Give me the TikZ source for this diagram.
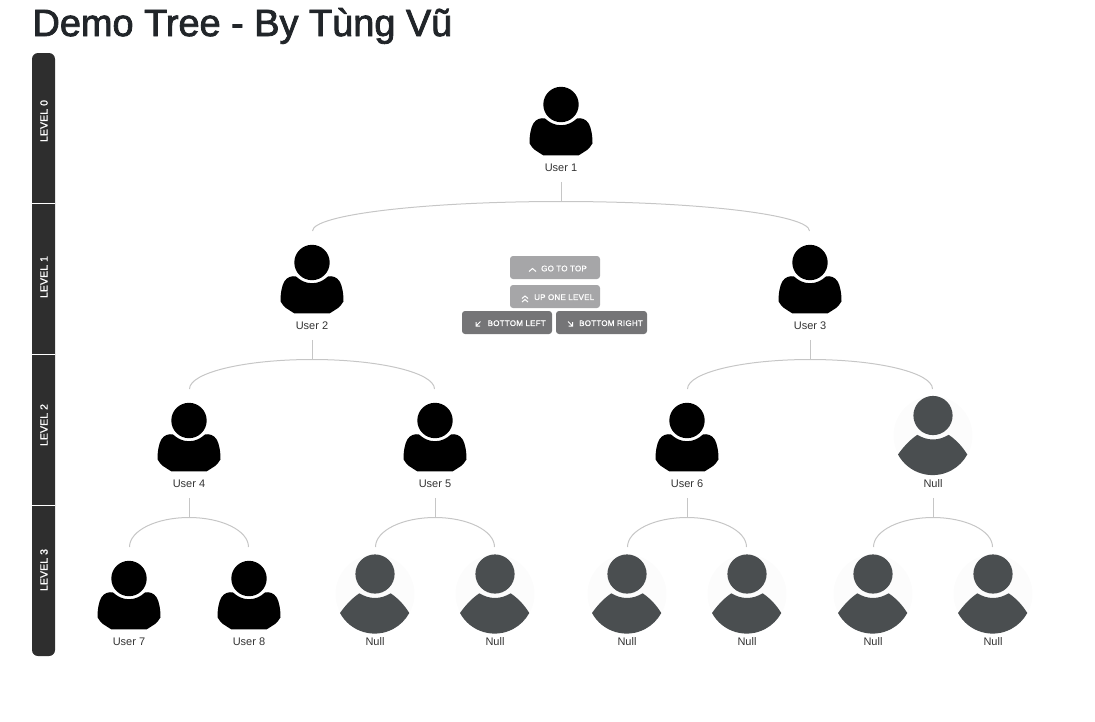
\documentclass[tikz,border=0pt]{standalone}
\usepackage{fontspec}
\usetikzlibrary{calc}
\setmainfont{Liberation Sans}
\newfontfamily\titlefont[FakeBold=2.2]{Liberation Sans}
\newfontfamily\levelfont[LetterSpace=1,FakeBold=1.2]{Liberation Sans}
\newfontfamily\btnfont[LetterSpace=3,FakeBold=1]{Liberation Sans}
\definecolor{barcol}{HTML}{2E2E2E}
\definecolor{btnlight}{HTML}{A6A6A8}
\definecolor{btndark}{HTML}{757577}
\definecolor{nullcol}{HTML}{4A4E50}
\definecolor{nullbg}{HTML}{FCFCFC}
\definecolor{linecol}{HTML}{C6C6C6}
\definecolor{titlecol}{HTML}{212529}
\definecolor{labelcol}{HTML}{333333}
\tikzset{
  personlabel/.style={font=\fontsize{11}{13}\selectfont,text=labelcol,inner sep=0pt,minimum height=28pt,anchor=center},
  branch/.style={draw=linecol,line width=1pt},
  levelsep/.style={draw=white,line width=1.2pt},
  leveltext/.style={font=\fontsize{10.5}{12}\selectfont\levelfont,text=white,rotate=90,inner sep=0pt},
  btnbox/.style={rounded corners=3pt,inner sep=0pt,minimum height=23pt},
  btntext/.style={font=\fontsize{8}{10}\selectfont\btnfont,text=white,inner sep=0pt,anchor=west},
  btnicon/.style={draw=white,line width=1pt},
  userpic/.pic={
    \fill[black] (0,0) circle[radius=17.7];
    \fill[black] (-16,14) .. controls (-11,18.5) and (-6,20.7) .. (0,20.7)
      .. controls (6,20.7) and (11,18.5) .. (16,14)
      .. controls (20,13) and (25,14.5) .. (27.7,19)
      .. controls (30,23) and (31.5,30) .. (31.5,38.8)
      .. controls (30.5,41) and (28,44) .. (26,45.5)
      .. controls (23,47.5) and (20,49.5) .. (17.7,50.8)
      -- (-17.7,50.8)
      .. controls (-20,49.5) and (-23,47.5) .. (-26,45.5)
      .. controls (-28,44) and (-30.5,41) .. (-31.5,38.8)
      .. controls (-31.5,30) and (-30,23) .. (-27.7,19)
      .. controls (-25,14.5) and (-20,13) .. (-16,14) -- cycle;
  },
  nullpic/.pic={
    \fill[nullbg] (0,0) circle[radius=39.5];
    \fill[nullcol] (0,-20) circle[radius=19.6];
    \fill[nullcol] (-35,19) arc[start angle=151.5,end angle=28.5,radius=39.4]
      .. controls (30,12) and (24,5) .. (15.7,-0.7)
      .. controls (11,2) and (6,4) .. (0,4)
      .. controls (-6,4) and (-11,2) .. (-15.7,-0.7)
      .. controls (-24,5) and (-30,12) .. (-35,19) -- cycle;
  }
}
% parent label, junction, left end, right end
\newcommand{\treefork}[4]{%
  \draw[branch] (#1.south) -- (#2);
  \draw[branch] (#3) .. controls ($(#3)!0.5523!(#3|-#2)$) and ($(#2)!0.5523!(#3|-#2)$) .. (#2)
    .. controls ($(#2)!0.5523!(#4|-#2)$) and ($(#4)!0.5523!(#4|-#2)$) .. (#4);
}
\begin{document}
\begin{tikzpicture}[x=1pt,y=-1pt]
\useasboundingbox (0,0) rectangle (1095,721);
% title
\node[anchor=base west,inner sep=0pt,text=titlecol,font=\fontsize{37.9}{44}\selectfont\titlefont] (title) at (32.3,36) {Demo Tree - By Tùng Vũ};
% level bar
\fill[barcol,rounded corners=6pt] (32,53) rectangle (55,656);
\draw[levelsep] (32,203.5) -- (55,203.5);
\draw[levelsep] (32,354.5) -- (55,354.5);
\draw[levelsep] (32,505.5) -- (55,505.5);
\node[leveltext] (lv0) at (44,121) {LEVEL 0};
\node[leveltext] (lv1) at (44,277) {LEVEL 1};
\node[leveltext] (lv2) at (44,425) {LEVEL 2};
\node[leveltext] (lv3) at (44,570) {LEVEL 3};
% people
\pic at (561,104.5) {userpic};
\pic at (312,262.5) {userpic};
\pic at (810,262.5) {userpic};
\pic at (189,420.5) {userpic};
\pic at (435,420.5) {userpic};
\pic at (687,420.5) {userpic};
\pic at (933,435.5) {nullpic};
\pic at (129,578.5) {userpic};
\pic at (249,578.5) {userpic};
\pic at (375,594) {nullpic};
\pic at (495,594) {nullpic};
\pic at (627,594) {nullpic};
\pic at (747,594) {nullpic};
\pic at (873,594) {nullpic};
\pic at (993,594) {nullpic};
% labels
\node[personlabel] (n1) at (561,167.7) {User 1};
\node[personlabel] (n2) at (312,325.7) {User 2};
\node[personlabel] (n3) at (810,325.7) {User 3};
\node[personlabel] (n4) at (189,483.7) {User 4};
\node[personlabel] (n5) at (435,483.7) {User 5};
\node[personlabel] (n6) at (687,483.7) {User 6};
\node[personlabel] (n7) at (933,483.7) {Null};
\node[personlabel] (n8) at (129,641.7) {User 7};
\node[personlabel] (n9) at (249,641.7) {User 8};
\node[personlabel] (n10) at (375,641.7) {Null};
\node[personlabel] (n11) at (495,641.7) {Null};
\node[personlabel] (n12) at (627,641.7) {Null};
\node[personlabel] (n13) at (747,641.7) {Null};
\node[personlabel] (n14) at (873,641.7) {Null};
\node[personlabel] (n15) at (993,641.7) {Null};
% connectors
\coordinate (j1) at (561,201.5);
\coordinate (j2) at (312,359.5);
\coordinate (j3) at (810,359.5);
\coordinate (j4) at (189,517.5);
\coordinate (j5) at (435,517.5);
\coordinate (j6) at (687,517.5);
\coordinate (j7) at (933,517.5);
\coordinate (t2) at (312.5,231);
\coordinate (t3) at (809.5,231);
\coordinate (t4) at (189.5,389);
\coordinate (t5) at (434.5,389);
\coordinate (t6) at (687.5,389);
\coordinate (t7) at (932.5,389);
\coordinate (t8) at (129.5,547);
\coordinate (t9) at (248.5,547);
\coordinate (t10) at (375.5,547);
\coordinate (t11) at (494.5,547);
\coordinate (t12) at (627.5,547);
\coordinate (t13) at (746.5,547);
\coordinate (t14) at (873.5,547);
\coordinate (t15) at (992.5,547);
\treefork{n1}{j1}{t2}{t3}
\treefork{n2}{j2}{t4}{t5}
\treefork{n3}{j3}{t6}{t7}
\treefork{n4}{j4}{t8}{t9}
\treefork{n5}{j5}{t10}{t11}
\treefork{n6}{j6}{t12}{t13}
\treefork{n7}{j7}{t14}{t15}
% buttons
\node[btnbox,fill=btnlight,minimum width=90pt] (b1) at (555,267.5) {};
\node[btnbox,fill=btnlight,minimum width=90pt] (b2) at (555,296.5) {};
\node[btnbox,fill=btndark,minimum width=90pt] (b3) at (507,322.5) {};
\node[btnbox,fill=btndark,minimum width=91pt] (b4) at (601.5,322.5) {};
\node[btntext] at (541,268.5) {GO TO TOP};
\node[btntext] at (534,297.2) {UP ONE LEVEL};
\node[btntext] at (487.5,323.2) {BOTTOM LEFT};
\node[btntext] at (579,323.2) {BOTTOM RIGHT};
\draw[btnicon] (529,271.5) -- (532.5,268.5) -- (536,271.5);
\draw[btnicon] (522,298.5) -- (525,296) -- (528,298.5);
\draw[btnicon] (522,302) -- (525,299.5) -- (528,302);
\draw[btnicon] (480.5,321.5) -- (476,326) (476,322) -- (476,326) -- (480,326);
\draw[btnicon] (568,321.5) -- (572.5,326) (572.5,322) -- (572.5,326) -- (568.5,326);
\end{tikzpicture}
\end{document}
